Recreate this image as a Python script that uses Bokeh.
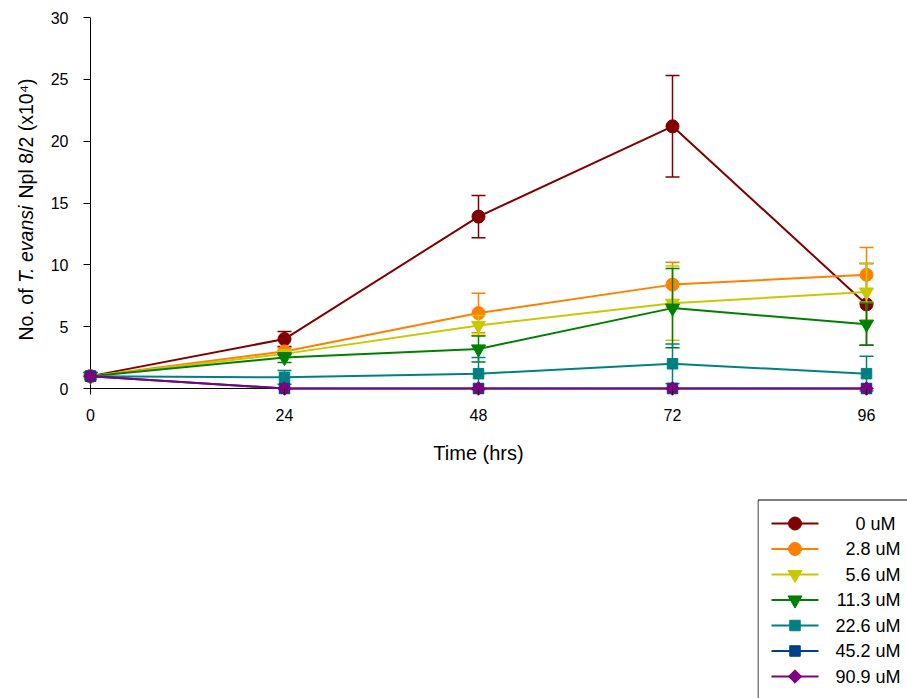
import math
from bokeh.plotting import figure
from bokeh.models import Range1d, FixedTicker, Spacer, ColumnDataSource
from bokeh.layouts import column, row
from bokeh.core.properties import value
from bokeh.embed import file_html
from bokeh.resources import INLINE

# ---------------- data ----------------
hours = [0, 24, 48, 72, 96]
series_labels = ["0  uM", "2.8 uM", "5.6 uM", "11.3 uM", "22.6 uM", "45.2 uM", "90.9 uM"]

mean_0uM = [1.0, 4.0, 13.9, 21.2, 6.8]
mean_2_8uM = [1.0, 3.0, 6.1, 8.4, 9.2]
mean_5_6uM = [1.0, 2.8, 5.1, 6.9, 7.8]
mean_11_3uM = [1.0, 2.5, 3.2, 6.5, 5.2]
mean_22_6uM = [1.0, 0.9, 1.2, 2.0, 1.2]
mean_45_2uM = [1.0, 0.0, 0.0, 0.0, 0.0]
mean_90_9uM = [1.0, 0.0, 0.0, 0.0, 0.0]

err_0uM = [0.0, 0.6, 1.7, 4.1, 3.3]
err_2_8uM = [0.0, 0.3, 1.6, 1.8, 2.2]
err_5_6uM = [0.0, 0.3, 0.8, 3.0, 2.3]
err_11_3uM = [0.0, 0.4, 1.05, 3.2, 1.7]
err_22_6uM = [0.0, 0.55, 1.3, 1.6, 1.4]
err_45_2uM = [0.0, 0.0, 0.0, 0.0, 0.0]
err_90_9uM = [0.0, 0.0, 0.0, 0.0, 0.0]

y_ticks = [0, 5, 10, 15, 20, 25, 30]
x_ticks = [0, 24, 48, 72, 96]
x_title = "Time (hrs)"
y_title_parts = ["No. of", "T. evansi", "Npl 8/2 (x10\u2074)"]

means = [mean_0uM, mean_2_8uM, mean_5_6uM, mean_11_3uM, mean_22_6uM, mean_45_2uM, mean_90_9uM]
errs = [err_0uM, err_2_8uM, err_5_6uM, err_11_3uM, err_22_6uM, err_45_2uM, err_90_9uM]

# ---------------- styles ----------------
colors = ["#800000", "#FF8000", "#C8C800", "#008000", "#008080", "#003F8A", "#800080"]
styles = ["circle", "circle", "tri", "tri", "square", "square", "diamond"]
STYLE = {
    "circle": ("circle", 13, 0.0),
    "tri": ("inverted_triangle", 14, 0.0),
    "square": ("square", 10.5, 0.0),
    "diamond": ("square", 9.5, math.pi / 4),
}
FONT = "Liberation Sans"

PAGE_W, PAGE_H = 907, 698
TOP_H = 488
YLAB_W = 40

# ---------------- main figure geometry ----------------
FRAME_TOP = 17
FRAME_W, FRAME_H = 800, 381
X_PAD, Y_PAD = 12, 10
xs = (FRAME_W - 2 * X_PAD) / (x_ticks[-1] - x_ticks[0])
ys = (FRAME_H - Y_PAD) / (y_ticks[-1] - y_ticks[0])

MAIN_W = PAGE_W - YLAB_W
p = figure(width=MAIN_W, height=TOP_H,
           x_range=Range1d(x_ticks[0] - X_PAD / xs, x_ticks[-1] + X_PAD / xs),
           y_range=Range1d(y_ticks[0] - Y_PAD / ys, y_ticks[-1]),
           output_backend="svg", toolbar_location=None,
           min_border_left=78 - YLAB_W, min_border_right=MAIN_W - (78 - YLAB_W) - FRAME_W,
           min_border_top=FRAME_TOP, min_border_bottom=TOP_H - FRAME_TOP - FRAME_H,
           background_fill_color="white", border_fill_color="white",
           outline_line_color=None)
p.xgrid.visible = False
p.ygrid.visible = False

for ax in (p.xaxis[0], p.yaxis[0]):
    ax.axis_line_color = None
    ax.minor_tick_line_color = None
    ax.major_tick_line_color = "black"
    ax.major_label_text_font = FONT
    ax.major_label_text_font_size = "16px"
    ax.major_label_text_color = "black"

p.yaxis.ticker = FixedTicker(ticks=y_ticks)
p.yaxis.bounds = (y_ticks[0], y_ticks[-1])
p.yaxis.major_tick_in = X_PAD
p.yaxis.major_tick_out = -(X_PAD - 7)
p.yaxis.major_label_standoff = 10

p.xaxis.ticker = FixedTicker(ticks=x_ticks)
p.xaxis.bounds = (x_ticks[0], x_ticks[-1])
p.xaxis.major_tick_in = Y_PAD
p.xaxis.major_tick_out = -(Y_PAD - 6)
p.xaxis.major_label_standoff = 10
p.xaxis.axis_label = x_title
p.xaxis.axis_label_text_font = FONT
p.xaxis.axis_label_text_font_size = "20px"
p.xaxis.axis_label_text_font_style = "normal"
p.xaxis.axis_label_text_color = "black"
p.xaxis.axis_label_standoff = 18

# axis lines through data zero
p.segment(x0=[x_ticks[0], x_ticks[0]], y0=[y_ticks[0], y_ticks[0]],
          x1=[x_ticks[-1], x_ticks[0]], y1=[y_ticks[0], y_ticks[-1]],
          line_color="black", line_width=1)

# series: error bars, line, markers (drawn in series order like the original)
for mean, err, col, st in zip(means, errs, colors, styles):
    mk, sz, ang = STYLE[st]
    eb = [(h, m - e, m + e) for h, m, e in zip(hours, mean, err) if e > 0]
    if eb:
        esrc = ColumnDataSource(dict(x=[a for a, _, _ in eb], lo=[b for _, b, _ in eb],
                                     hi=[c for _, _, c in eb]))
        p.segment(x0="x", y0="lo", x1="x", y1="hi", source=esrc, line_color=col, line_width=1.5)
        p.scatter(x="x", y="lo", source=esrc, marker="dash", size=14, line_color=col, line_width=1.5)
        p.scatter(x="x", y="hi", source=esrc, marker="dash", size=14, line_color=col, line_width=1.5)
    src = ColumnDataSource(dict(x=hours, y=mean))
    p.line(x="x", y="y", source=src, line_color=col, line_width=2)
    p.scatter(x="x", y="y", source=src, marker=mk, size=sz, angle=ang,
              fill_color=col, line_color=col)

# ---------------- y-axis title figure (mixed italic) ----------------
# its frame is aligned with the main frame by the row layout: page y 17..398
ylab = figure(width=YLAB_W, height=TOP_H, x_range=Range1d(0, YLAB_W),
              y_range=Range1d(FRAME_TOP + FRAME_H, FRAME_TOP),
              output_backend="svg", toolbar_location=None, min_border=0,
              x_axis_location=None, y_axis_location=None, outline_line_color=None,
              background_fill_color="white", border_fill_color="white")
ylab.grid.visible = False
YL_FS = 19.5
em_offsets = [0.0, 2.946, 7.281]
total_em = 13.33
start = 210 + total_em * YL_FS / 2
for txt, style, off in zip(y_title_parts, ["normal", "italic", "normal"], em_offsets):
    ylab.text(x=[25], y=[start - off * YL_FS], text=[txt], angle=math.pi / 2,
              text_align="left", text_baseline="middle",
              text_font=value(FONT), text_font_size=f"{YL_FS}px",
              text_font_style=value(style), text_color="black")

# ---------------- legend figure ----------------
LW, LH = 150, PAGE_H - TOP_H
leg = figure(width=LW, height=LH, x_range=Range1d(0, LW), y_range=Range1d(LH, 0),
             output_backend="svg", toolbar_location=None, min_border=0,
             x_axis_location=None, y_axis_location=None, outline_line_color=None,
             background_fill_color="white", border_fill_color="white")
leg.grid.visible = False
leg.quad(left=[0.5], right=[LW + 10], top=[11.5], bottom=[LH + 20],
         fill_color=None, line_color="black", line_width=1)

n = len(series_labels)
row_y = [35 + 25.5 * i for i in range(n)]
leg.segment(x0=[14] * n, x1=[61] * n, y0=row_y, y1=row_y, line_color=colors, line_width=2)
leg_src = ColumnDataSource(dict(
    x=[37.5] * n, y=row_y, c=colors,
    m=[STYLE[s][0] for s in styles], s=[STYLE[s][1] for s in styles],
    a=[STYLE[s][2] for s in styles]))
leg.scatter(x="x", y="y", marker="m", size="s", angle="a", fill_color="c", line_color="c",
            source=leg_src)
leg.text(x=[143] * n, y=row_y, text=series_labels, text_align="right", text_baseline="middle",
         text_font=value(FONT), text_font_size="18px", text_color="black")

layout = column(row(ylab, p), row(Spacer(width=PAGE_W - LW, height=LH), leg))

open("out.html", "w").write(file_html(layout, INLINE))
